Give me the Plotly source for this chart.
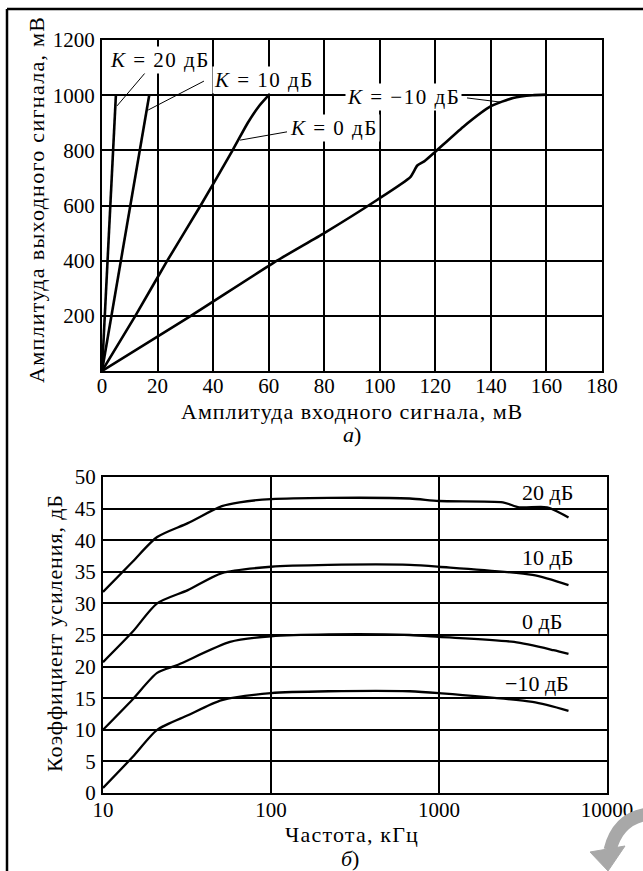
import math
import plotly.graph_objects as go

W, H = 643, 871
FONT = "Liberation Serif"

# ---- Top chart data (input amplitude mV -> output amplitude mV) ----
k20_x = [0, 5]
k20_y = [0, 1000]
k10_x = [0, 17]
k10_y = [0, 1000]
k0_x = [0, 12, 23.5, 35.5, 47, 52.5, 56.5, 60]
k0_y = [0, 200, 400, 600, 800, 900, 960, 1000]
km10_x = [0, 32, 63, 80, 99, 111, 113.5, 116, 120, 130, 140, 148, 155, 160]
km10_y = [0, 200, 400, 500, 620, 703, 745, 760, 795, 885, 960, 990, 1000, 1002]

top_xticks = [0, 20, 40, 60, 80, 100, 120, 140, 160, 180]
top_yticks = [200, 400, 600, 800, 1000, 1200]

top_labels = ["<i>K</i> = 20 дБ", "<i>K</i> = 10 дБ",
              "<i>K</i> = 0 дБ", "<i>K</i> = −10 дБ"]
top_label_x = [20.9, 58.3, 83.5, 108.4]
top_label_y = [1128, 1055, 881, 993]
leader_x0 = [15.8, 36.7, 66.6, 131.4]
leader_y0 = [1084, 1051, 867, 990]
leader_x1 = [5.4, 16.6, 49.7, 143.3]
leader_y1 = [961, 946, 837, 975]

# ---- Bottom chart data (frequency kHz -> gain dB) ----
g20_f = [10, 15, 21, 32, 51, 65, 100, 220, 670, 1000, 2400, 3000, 4400, 5900]
g20_db = [31.8, 36.6, 40.5, 42.7, 45.4, 46.0, 46.5, 46.7, 46.6, 46.2, 46.0, 45.2, 45.2, 43.6]
g10_f = [10, 15, 21, 32, 51, 100, 220, 670, 1000, 3600, 5900]
g10_db = [20.7, 25.5, 30.0, 32.1, 34.8, 35.8, 36.1, 36.1, 35.8, 34.5, 32.9]
g0_f = [10, 15, 21, 28, 57, 100, 220, 670, 1000, 2800, 4800, 5900]
g0_db = [10.0, 14.8, 19.0, 20.3, 23.9, 24.8, 25.1, 25.0, 24.7, 23.9, 22.6, 22.0]
gm10_f = [10, 15, 21, 32, 51, 100, 220, 670, 1000, 3600, 5900]
gm10_db = [0.8, 5.7, 10.0, 12.3, 14.7, 15.8, 16.1, 16.1, 15.8, 14.4, 13.0]

bot_xticks = [10, 100, 1000, 10000]
bot_yticks = [0, 5, 10, 15, 20, 25, 30, 35, 40, 45, 50]

bot_labels = ["20 дБ", "10 дБ", "0 дБ", "−10 дБ"]
bot_label_f = [3034, 3034, 3034, 2404]
bot_label_db = [47.6, 37.3, 27.1, 17.4]


def px(x):
    return x / W


def py(y):
    return 1 - y / H


def spaced(t, ls=1.0):
    return '<span style="letter-spacing:{}px">{}</span>'.format(ls, t)


fig = go.Figure()

line_top = dict(color="black", width=2.6, shape="spline", smoothing=0.5)
for xs, ys in [(k20_x, k20_y), (k10_x, k10_y), (k0_x, k0_y), (km10_x, km10_y)]:
    fig.add_trace(go.Scatter(x=xs, y=ys, mode="lines", line=line_top,
                             xaxis="x", yaxis="y", showlegend=False, hoverinfo="skip"))

line_bot = dict(color="black", width=2.3, shape="spline", smoothing=0.7)
for xs, ys in [(g20_f, g20_db), (g10_f, g10_db), (g0_f, g0_db), (gm10_f, gm10_db)]:
    fig.add_trace(go.Scatter(x=xs, y=ys, mode="lines", line=line_bot,
                             xaxis="x2", yaxis="y2", showlegend=False, hoverinfo="skip"))

tickfont = dict(family=FONT, size=21, color="black")
axis_common = dict(showline=True, mirror=True, linecolor="black", linewidth=2,
                   showgrid=True, gridcolor="black", gridwidth=2, zeroline=False,
                   ticks="", tickfont=tickfont, automargin=False)

fig.update_layout(
    template="none",
    width=W, height=H,
    autosize=False,
    margin=dict(l=0, r=0, t=0, b=0, pad=0),
    paper_bgcolor="white", plot_bgcolor="white",
    font=dict(family=FONT, color="black"),
    xaxis=dict(domain=[px(102), px(602)], range=[0, 180], tickvals=top_xticks,
               anchor="y", ticklabelstandoff=-5, **axis_common),
    yaxis=dict(domain=[py(371), py(40)], range=[0, 1200], tickvals=top_yticks,
               anchor="x", ticklabelstandoff=1, **axis_common),
    xaxis2=dict(domain=[px(103), px(607)], type="log", range=[1, 4], tickvals=bot_xticks,
                ticktext=[str(v) for v in bot_xticks], anchor="y2", ticklabelstandoff=-3,
                **axis_common),
    yaxis2=dict(domain=[py(793), py(477)], range=[0, 50], tickvals=bot_yticks,
                anchor="x2", ticklabelstandoff=1, **axis_common),
)

annotations = []
titlefont = dict(family=FONT, size=22, color="black")
ctr = dict(xref="paper", yref="paper", showarrow=False, xanchor="center", yanchor="middle",
           font=titlefont)
annotations.append(dict(text=spaced("Амплитуда входного сигнала, мВ", 1.0),
                        x=px(352), y=py(411), **ctr))
annotations.append(dict(text=spaced("Амплитуда выходного сигнала, мВ", 1.3),
                        x=px(37), y=py(200), textangle=-90, **ctr))
annotations.append(dict(text="<i>а</i>)", x=px(352), y=py(434), **ctr))
annotations.append(dict(text=spaced("Частота, кГц", 1.2), x=px(352), y=py(834), **ctr))
annotations.append(dict(text=spaced("Коэффициент усиления, дБ", 0.9),
                        x=px(54), y=py(633), textangle=-90, **ctr))
annotations.append(dict(text="<i>б</i>)", x=px(350), y=py(858), **ctr))

for t, x, y in zip(top_labels, top_label_x, top_label_y):
    annotations.append(dict(text=spaced(t, 1.5), x=x, y=y, xref="x", yref="y",
                            showarrow=False, xanchor="center", yanchor="middle",
                            bgcolor="white", borderpad=1,
                            font=dict(family=FONT, size=21, color="black")))

for t, x, y in zip(bot_labels, bot_label_f, bot_label_db):
    annotations.append(dict(text=t, x=math.log10(x), y=y, xref="x2", yref="y2",
                            showarrow=False, xanchor="left", yanchor="middle",
                            font=dict(family=FONT, size=22, color="black")))

shapes = []
for x0, y0, x1, y1 in zip(leader_x0, leader_y0, leader_x1, leader_y1):
    shapes.append(dict(type="line", xref="x", yref="y", x0=x0, y0=y0, x1=x1, y1=y1,
                       line=dict(color="black", width=1)))

# outer frame (left and top edges)
shapes.append(dict(type="line", xref="paper", yref="paper", x0=px(7), y0=py(9), x1=px(7), y1=0,
                   line=dict(color="black", width=2.5)))
shapes.append(dict(type="line", xref="paper", yref="paper", x0=px(7), y0=py(9), x1=1, y1=py(9),
                   line=dict(color="black", width=2.5)))

# grey watermark arc at bottom-right corner
arc = "M {:.4f},{:.4f} Q {:.4f},{:.4f} {:.4f},{:.4f}".format(
    px(648), py(814), px(618), py(818), px(610), py(850))
shapes.append(dict(type="path", xref="paper", yref="paper", path=arc,
                   line=dict(color="#a8a8a8", width=13)))
head = "M {:.4f},{:.4f} L {:.4f},{:.4f} L {:.4f},{:.4f} Z".format(
    px(590), py(852), px(625), py(846), px(608), py(871))
shapes.append(dict(type="path", xref="paper", yref="paper", path=head,
                   fillcolor="#a8a8a8", line=dict(color="#a8a8a8", width=1)))

fig.update_layout(annotations=annotations, shapes=shapes)

fig.write_html("out.html", config={"displayModeBar": False},
               post_script="document.body.style.margin='0';")
